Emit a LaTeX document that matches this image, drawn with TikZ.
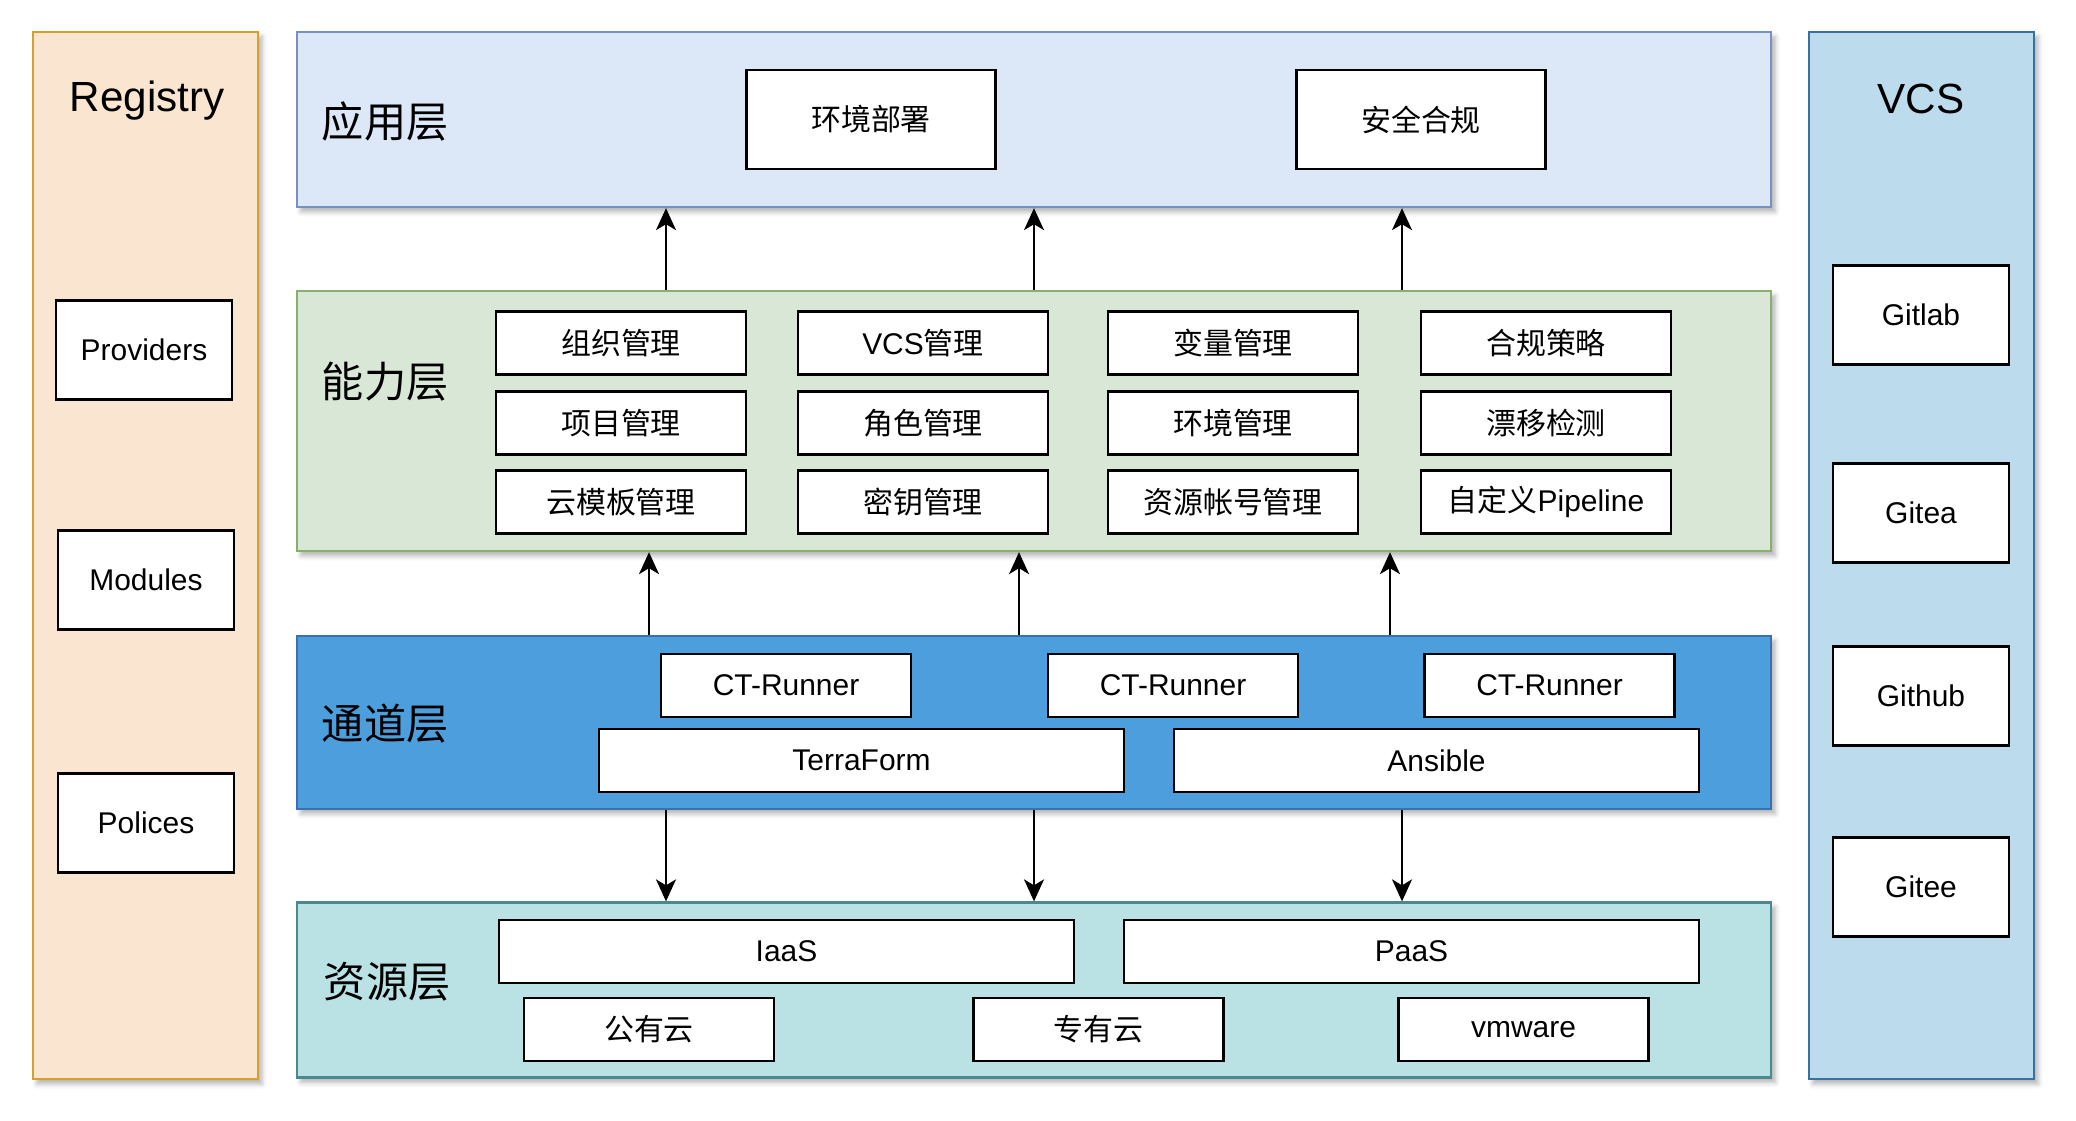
\documentclass[tikz,border=0pt]{standalone}
\usepackage{fontspec}
\setmainfont{Liberation Sans}
\newfontfamily\cjk{Noto Sans CJK SC}
\usetikzlibrary{arrows.meta, shadows.blur}
\definecolor{regfill}{HTML}{FAE6D0}
\definecolor{regline}{HTML}{D6A030}
\definecolor{appfill}{HTML}{DCE7F8}
\definecolor{appline}{HTML}{7690C0}
\definecolor{capfill}{HTML}{D9E7D6}
\definecolor{capline}{HTML}{88B06C}
\definecolor{chnfill}{HTML}{4C9FDC}
\definecolor{chnline}{HTML}{3A6FB0}
\definecolor{resfill}{HTML}{BAE1E4}
\definecolor{resline}{HTML}{4A8A8E}
\definecolor{vcsfill}{HTML}{BCDCEE}
\definecolor{vcsline}{HTML}{3A70A0}

\begin{document}
\begin{tikzpicture}[x=0.025cm, y=-0.025cm,
                panel/.style={draw, line width=1.6pt, inner sep=0, blur shadow={shadow xshift=0.1cm, shadow yshift=-0.12cm, shadow blur radius=0.12cm, shadow opacity=30}},
                layer/.style={panel, minimum width=36.85cm},
                side/.style={panel, minimum width=5.625cm, minimum height=26.175cm},
                box/.style={draw, line width=1.9pt, fill=white, inner sep=0, font=\fontsize{21.3}{24}\selectfont},
                cell/.style={box, minimum width=6.25cm, minimum height=1.575cm},
                big/.style={box, minimum width=6.225cm, minimum height=2.475cm},
                tool/.style={box, minimum width=4.4cm, minimum height=2.475cm},
                title/.style={anchor=west, font=\cjk\fontsize{30}{34}\selectfont},
                head/.style={font=\fontsize{30}{34}\selectfont},
                arr/.style={line width=1.4pt, -{Stealth[length=0.55cm, width=0.5cm, inset=0.15cm]}}]
                \useasboundingbox (0,0) rectangle (2076,1120);
                \node[side, fill=regfill, draw=regline] (Reg) at (145.5,555.5) {};
                \node[side, fill=vcsfill, draw=vcsline] (VCS) at (1921.5,555.5) {};
                \node[layer, minimum height=4.375cm, fill=appfill, draw=appline] (App) at (1034,119.5) {};
                \node[layer, minimum height=6.5cm, fill=capfill, draw=capline] (Cap) at (1034,421) {};
                \node[layer, minimum height=4.325cm, fill=chnfill, draw=chnline] (Chn) at (1034,722.5) {};
                \node[layer, minimum height=4.375cm, fill=resfill, draw=resline] (Res) at (1034,990) {};
                \node[head] (RegT) at (147,101) {Registry};
                \node[head] (VCST) at (1921,99) {VCS};
                \node[title] (AppT) at (317,121) {应用层};
                \node[title] (CapT) at (317,382) {能力层};
                \node[title] (ChnT) at (317,724) {通道层};
                \node[title] (ResT) at (319,982) {资源层};
                \node[tool] (Prv) at (144,350) {Providers};
                \node[tool] (Mod) at (146,580) {Modules};
                \node[tool] (Pol) at (146,823) {Polices};
                \node[tool] (Glb) at (1921,315) {Gitlab};
                \node[tool] (Gta) at (1921,513) {Gitea};
                \node[tool] (Ghb) at (1921,696) {Github};
                \node[tool] (Gte) at (1921,887) {Gitee};
                \node[big] (Env) at (871,119.5) {\cjk 环境部署};
                \node[big] (Sec) at (1421,119.5) {\cjk 安全合规};
                \node[cell] (C11) at (621,343) {\cjk 组织管理};
                \node[cell] (C12) at (923,343) {VCS{\cjk 管理}};
                \node[cell] (C13) at (1233,343) {\cjk 变量管理};
                \node[cell] (C14) at (1546,343) {\cjk 合规策略};
                \node[cell] (C21) at (621,423) {\cjk 项目管理};
                \node[cell] (C22) at (923,423) {\cjk 角色管理};
                \node[cell] (C23) at (1233,423) {\cjk 环境管理};
                \node[cell] (C24) at (1546,423) {\cjk 漂移检测};
                \node[cell] (C31) at (621,502) {\cjk 云模板管理};
                \node[cell] (C32) at (923,502) {\cjk 密钥管理};
                \node[cell] (C33) at (1233,502) {\cjk 资源帐号管理};
                \node[cell] (C34) at (1546,502) {{\cjk 自定义}Pipeline};
                \node[cell] (Rn1) at (786,685.5) {CT-Runner};
                \node[cell] (Rn2) at (1173,685.5) {CT-Runner};
                \node[cell] (Rn3) at (1549.5,685.5) {CT-Runner};
                \node[cell, minimum width=13.125cm] (Tf) at (861.5,760.5) {TerraForm};
                \node[cell, minimum width=13.125cm] (Ans) at (1436.5,760.5) {Ansible};
                \node[cell, minimum width=14.375cm] (Iaas) at (786.5,951.5) {IaaS};
                \node[cell, minimum width=14.375cm] (Paas) at (1411.5,951.5) {PaaS};
                \node[cell] (Pub) at (649,1029.5) {\cjk 公有云};
                \node[cell] (Prv2) at (1098.5,1029.5) {\cjk 专有云};
                \node[cell] (Vmw) at (1523.5,1029.5) {vmware};
                \draw[arr] (Cap.north -| 666,0) -- (App.south -| 666,0);
                \draw[arr] (Cap.north -| 1034,0) -- (App.south -| 1034,0);
                \draw[arr] (Cap.north -| 1402,0) -- (App.south -| 1402,0);
                \draw[arr] (Chn.north -| 649,0) -- (Cap.south -| 649,0);
                \draw[arr] (Chn.north -| 1019,0) -- (Cap.south -| 1019,0);
                \draw[arr] (Chn.north -| 1390,0) -- (Cap.south -| 1390,0);
                \draw[arr] (Chn.south -| 666,0) -- (Res.north -| 666,0);
                \draw[arr] (Chn.south -| 1034,0) -- (Res.north -| 1034,0);
                \draw[arr] (Chn.south -| 1402,0) -- (Res.north -| 1402,0);
\end{tikzpicture}
\end{document}
